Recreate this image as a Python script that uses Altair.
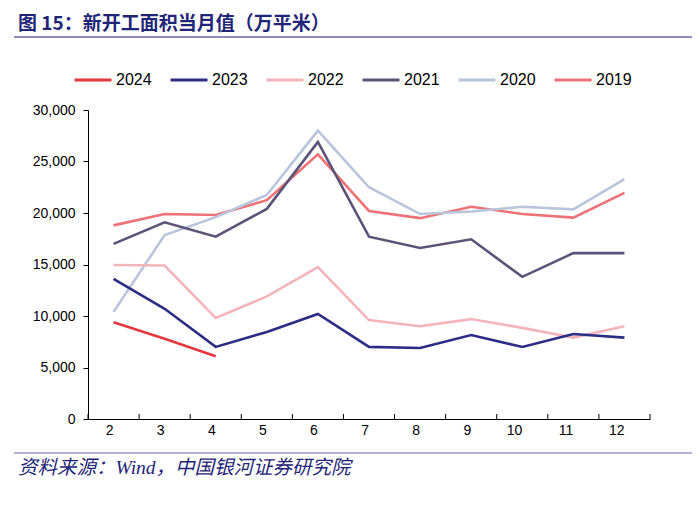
import altair as alt
import pandas as pd

months = [2, 3, 4, 5, 6, 7, 8, 9, 10, 11, 12]
years = ["2024", "2023", "2022", "2021", "2020", "2019"]
colors = ["#e3393e", "#2c2d84", "#f3b5ba", "#5d5378", "#b8c5dc", "#ec7276"]

v2024 = [9400, 7800, 6100]
v2023 = [13600, 10700, 7000, 8450, 10200, 7000, 6900, 8150, 7000, 8250, 7900]
v2022 = [14950, 14900, 9800, 11900, 14750, 9600, 9000, 9700, 8850, 7900, 9000]
v2021 = [17000, 19100, 17700, 20400, 26900, 17700, 16600, 17450, 13800, 16100, 16100]
v2020 = [10400, 17850, 19600, 21750, 28000, 22500, 19900, 20150, 20600, 20350, 23300]
v2019 = [18800, 19900, 19800, 21250, 25700, 20200, 19500, 20600, 19900, 19550, 21950]

y_ticks = [0, 5000, 10000, 15000, 20000, 25000, 30000]
title_text = "图 15：新开工面积当月值（万平米）"
source_text = "资料来源：Wind，中国银河证券研究院"

series = {"2019": v2019, "2020": v2020, "2021": v2021, "2022": v2022, "2023": v2023, "2024": v2024}
rows = []
for y, vals in series.items():
    for m, v in zip(months, vals):
        rows.append({"month": m, "year": y, "value": v})
df = pd.DataFrame(rows)

W, H = 562, 309
xscale = alt.Scale(type="band", domain=months, paddingInner=0, paddingOuter=0)

lines = alt.Chart(df).mark_line(strokeWidth=2.6).encode(
    x=alt.X("month:O", scale=xscale, bandPosition=0.5,
            axis=alt.Axis(title=None, labelAngle=0, ticks=False, domainColor="black",
                          domainWidth=1, labelPadding=11, labelFont="Liberation Sans",
                          labelFontSize=14, labelColor="black")),
    y=alt.Y("value:Q", scale=alt.Scale(domain=[0, 30000], nice=False),
            axis=alt.Axis(title=None, values=y_ticks, labelExpr="format(datum.value, ',.0f')",
                          grid=False, domainColor="black", tickColor="black", tickSize=5,
                          labelPadding=8, labelFont="Liberation Sans", labelFontSize=14,
                          labelColor="black")),
    color=alt.Color("year:N", scale=alt.Scale(domain=years, range=colors),
                    legend=alt.Legend(orient="none", legendX=-15, legendY=-50,
                                      direction="horizontal", title=None,
                                      symbolType="stroke", symbolSize=1369,
                                      symbolStrokeWidth=2.8, labelFont="Liberation Sans",
                                      labelFontSize=16, labelColor="black",
                                      columnPadding=12, labelOffset=3, padding=0)),
)

tick_df = pd.DataFrame({"month": months})
ticks = alt.Chart(tick_df).mark_rule(color="black", strokeWidth=1).encode(
    x=alt.X("month:O", scale=xscale, bandPosition=0),
    y=alt.value(H - 5), y2=alt.value(H),
)
last_tick = alt.Chart(pd.DataFrame({"a": [0]})).mark_rule(color="black", strokeWidth=1).encode(
    x=alt.value(W), y=alt.value(H - 5), y2=alt.value(H),
)

title = alt.Chart(pd.DataFrame({"t": [title_text]})).mark_text(
    align="left", baseline="alphabetic", font="Noto Sans CJK SC", fontWeight="bold",
    fontSize=19, color="#1f2577"
).encode(text="t:N", x=alt.value(-70), y=alt.value(-80))

title_line = alt.Chart(pd.DataFrame({"a": [0]})).mark_rule(color="#6b64a8", strokeWidth=1.5).encode(
    x=alt.value(-74), x2=alt.value(620), y=alt.value(-73)
)

source = alt.Chart(pd.DataFrame({"t": [source_text]})).mark_text(
    align="left", baseline="alphabetic", font="Liberation Serif, Noto Sans CJK SC",
    fontStyle="italic", fontSize=19.5, color="#1f2577"
).encode(text="t:N", x=alt.value(-70), y=alt.value(364))

source_line = alt.Chart(pd.DataFrame({"a": [0]})).mark_rule(color="#6b64a8", strokeWidth=1.2).encode(
    x=alt.value(-74), x2=alt.value(620), y=alt.value(343)
)

chart = alt.layer(title_line, title, source_line, source, ticks, last_tick, lines).properties(
    width=W, height=H,
    autosize=alt.AutoSizeParams(type="none"),
    padding={"left": 80, "top": 102, "right": 42, "bottom": 80},
).configure_view(stroke=None)

chart.save("out.html", embed_options={"renderer": "svg", "actions": False})
